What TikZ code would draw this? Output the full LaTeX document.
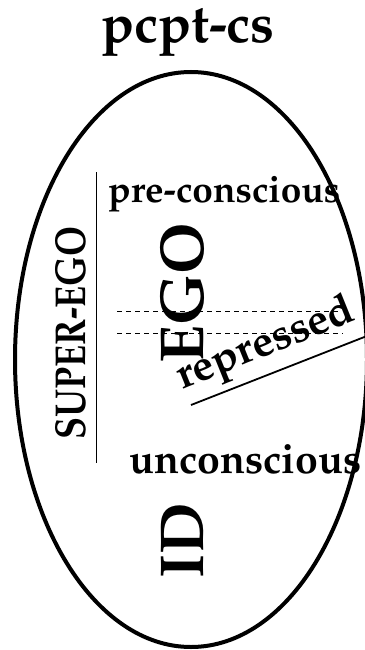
\documentclass[tikz,border=0pt]{standalone}
\usepackage[T1]{fontenc}
\usepackage{mathpazo}
\usetikzlibrary{shapes.geometric}

\begin{document}
\begin{tikzpicture}[x=1pt, y=-1pt, inner sep=0pt,
  word/.style={font=\bfseries\fontsize{#1}{#1}\selectfont},
  divider/.style={line width=0.8pt},
  level/.style={line width=0.7pt, dash pattern=on 5pt off 4pt}]

\useasboundingbox (0,0) rectangle (364,650);

\node (title) [word=54, anchor=base] at (188,43) {pcpt-cs};

\node (precs) [word=37, anchor=base west] at (108,202) {pre-conscious};
\node (uncs) [word=41, anchor=base west] at (129,473) {unconscious};

\node (superego) [word=36, rotate=90, yscale=1.2, anchor=base] at (85,333) {SUPER-EGO};
\node (ego) [word=62, rotate=90, anchor=base] at (203,293) {EGO};
\node (id) [word=62, rotate=90, anchor=base] at (203,541) {ID};

\node (rep) [word=43, rotate=22, anchor=base west] at (182,390) {repressed};

\coordinate (sep-top) at (96,172);
\coordinate (sep-bot) at (96,463);
\draw[divider] (sep-top) -- (sep-bot);

\coordinate (lvl-a1) at (117,311);
\coordinate (lvl-a2) at (340,311);
\coordinate (lvl-b1) at (117,333);
\coordinate (lvl-b2) at (343,333);
\draw[level] (lvl-a1) -- (lvl-a2);
\draw[level] (lvl-b1) -- (lvl-b2);

\coordinate (ul-a) at (191,405);
\coordinate (ul-b) at (372,334);
\draw[line width=1.8pt] (ul-a) -- (ul-b);

\node (psyche) [ellipse, draw, line width=4pt, minimum width=352pt,
  minimum height=575pt] at (191,359.5) {};

\end{tikzpicture}
\end{document}
